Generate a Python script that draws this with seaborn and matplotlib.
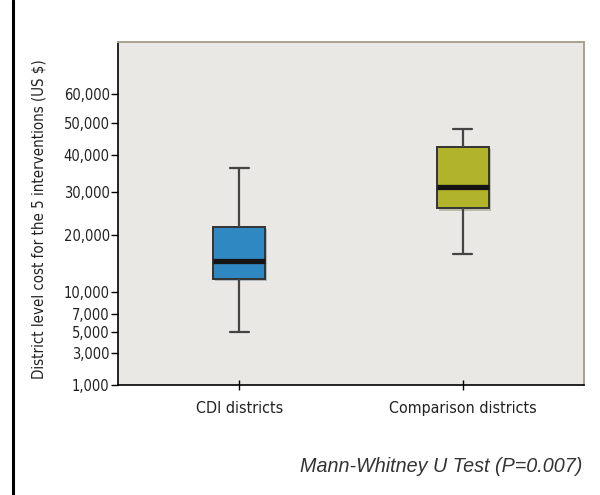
import numpy as np
import pandas as pd
import matplotlib
matplotlib.use("Agg")
import matplotlib.pyplot as plt
import matplotlib.patheffects as pe
from matplotlib.lines import Line2D
from matplotlib.ticker import FixedLocator, FuncFormatter
import seaborn as sns

# Five-number summaries (min, Q1, median, Q3, max) of district-level cost, US $
groups = ["CDI districts", "Comparison districts"]
cdi_summary = [5000, 12000, 15000, 21700, 36400]
comparison_summary = [16300, 25900, 31300, 42500, 48100]
box_colors = ["#2f88c2", "#b1b32a"]
y_ticks = [1000, 3000, 5000, 7000, 10000, 20000, 30000, 40000, 50000, 60000]

df = pd.DataFrame({
    "group": [groups[0]] * len(cdi_summary) + [groups[1]] * len(comparison_summary),
    "cost": cdi_summary + comparison_summary,
})

sns.set_theme(style="white")
plt.rcParams["font.family"] = ["DejaVu Sans"]
plt.rcParams["font.stretch"] = "condensed"

fig = plt.figure(figsize=(6.0, 4.95), dpi=100)
fig.patch.set_facecolor("white")
ax = fig.add_axes([118 / 600, 1 - 385 / 495, (584 - 118) / 600, (385 - 42) / 495])
ax.set_facecolor("#e9e8e4")

sns.boxplot(
    data=df, x="group", y="cost", hue="group", palette=box_colors, saturation=1,
    order=groups, hue_order=groups, legend=False,
    whis=(0, 100), width=0.232, ax=ax,
    linecolor="#333333", linewidth=1.4,
    capwidths=0.085,
    boxprops=dict(path_effects=[pe.SimplePatchShadow(offset=(1.5, -1.5), alpha=0.25), pe.Normal()]),
    medianprops=dict(color="#141414", linewidth=3.8, solid_capstyle="butt"),
    whiskerprops=dict(color="#444444", linewidth=1.6),
    capprops=dict(color="#444444", linewidth=1.6),
)

ax.set_yscale("function", functions=(np.sqrt, np.square))
ax.set_ylim(1000, 80000)
ax.set_xlim(-0.542, 1.542)
ax.yaxis.set_major_locator(FixedLocator(y_ticks))
ax.yaxis.set_minor_locator(FixedLocator([]))
ax.yaxis.set_major_formatter(FuncFormatter(lambda v, p: f"{int(round(v)):,}"))

ax.tick_params(axis="y", direction="out", length=5, width=1, color="black",
               labelsize=10.5, pad=1, labelcolor="#222222", left=True)
ax.tick_params(axis="x", direction="inout", length=7, width=1, color="black",
               labelsize=11.5, pad=8, labelcolor="#222222", bottom=True)
for lab in ax.get_xticklabels() + ax.get_yticklabels():
    lab.set_fontstretch("condensed")

ax.set_xlabel("")
ax.set_ylabel("District level cost for the 5 interventions (US $)",
              fontsize=10.8, color="#222222", fontstretch="condensed")
ax.yaxis.set_label_coords(-0.153, 0.484)

for side in ("left", "bottom"):
    ax.spines[side].set_color("black")
    ax.spines[side].set_linewidth(1.2)
for side in ("top", "right"):
    ax.spines[side].set_color("#aaa190")
    ax.spines[side].set_linewidth(1.4)

fig.text(582 / 600, 1 - 467 / 495, "Mann-Whitney U Test (P=0.007)",
         ha="right", va="center", fontsize=14.2, style="italic",
         color="#333333", family=["Liberation Sans", "DejaVu Sans"], fontstretch="normal")

fig.add_artist(Line2D([13 / 600, 13 / 600], [0, 1], color="black", linewidth=2.2,
                      transform=fig.transFigure))

fig.savefig("out.png", dpi=100, facecolor="white")
